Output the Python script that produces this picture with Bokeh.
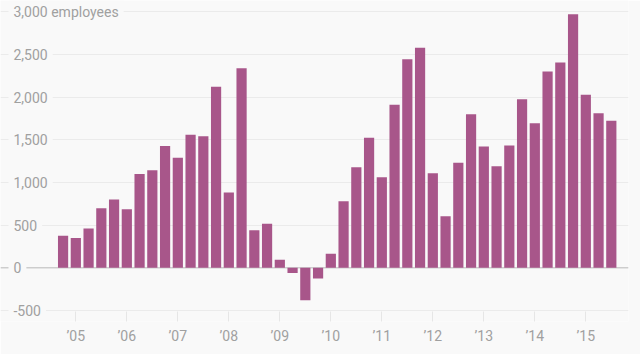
from bokeh.plotting import figure
from bokeh.models import Range1d, FixedTicker, Span, ColumnDataSource
from bokeh.core.properties import value
from bokeh.embed import file_html
from bokeh.resources import INLINE

# Quarterly change, first bar = 2004 Q4, last = 2015 Q3
first_quarter = (2004, 4)
employees = [375, 351, 460, 698, 800, 686, 1100, 1143, 1428, 1288, 1557, 1541,
             2119, 882, 2337, 440, 515, 94, -59, -379, -125, 164, 780, 1178,
             1522, 1061, 1909, 2443, 2576, 1108, 604, 1230, 1799, 1420, 1190, 1432,
             1975, 1694, 2299, 2404, 2970, 2026, 1810, 1721]

year_ticks = [2005, 2006, 2007, 2008, 2009, 2010, 2011, 2012, 2013, 2014, 2015]
year_labels = ["\u201905", "\u201906", "\u201907", "\u201908", "\u201909", "\u201910",
               "\u201911", "\u201912", "\u201913", "\u201914", "\u201915"]
y_ticks = [-500, 0, 500, 1000, 1500, 2000, 2500, 3000]
y_labels = ["-500", "0", "500", "1,000", "1,500", "2,000", "2,500", "3,000 employees"]

BG = "#f9f9f9"
TXT = "#a0a0a0"
BAR = "#a8568a"
FONT = "Roboto"

y0, q0 = first_quarter
xs = [y0 + (q0 - 1) / 4 + 0.25 * i for i in range(len(employees))]
src = ColumnDataSource(dict(x=xs, top=employees))

x_start = 2003.523
p = figure(width=640, height=354, output_backend="svg", toolbar_location=None,
           x_range=Range1d(x_start, 2015.837), y_range=Range1d(-628, 3130),
           min_border_left=0, min_border_top=0, min_border_right=12,
           min_border_bottom=33)
p.background_fill_color = BG
p.border_fill_color = BG
p.outline_line_color = None

p.vbar(x="x", top="top", bottom=0, width=0.2, source=src,
       fill_color=BAR, line_color=None)

p.xgrid.visible = False
p.yaxis.visible = False
p.yaxis.ticker = FixedTicker(ticks=y_ticks)
p.ygrid.ticker = FixedTicker(ticks=y_ticks)
p.ygrid.grid_line_color = "#ebebeb"
p.ygrid.grid_line_width = 1

p.add_layout(Span(location=0, dimension="width", line_color="#bdbdbd",
                  line_width=1, level="underlay"))

lab = ColumnDataSource(dict(x=[x_start] * len(y_ticks), y=y_ticks, t=y_labels))
p.text(x="x", y="y", text="t", source=lab, x_offset=8,
       text_align="left", text_baseline="middle",
       text_font=value(FONT), text_font_size="14px", text_color=TXT,
       background_fill_color=BG, padding=5)

xa = p.xaxis[0]
xa.ticker = FixedTicker(ticks=year_ticks)
xa.major_label_overrides = dict(zip(year_ticks, year_labels))
xa.axis_line_color = None
xa.major_tick_line_color = "#e6e6e6"
xa.major_tick_in = 10
xa.major_tick_out = 0
xa.minor_tick_line_color = None
xa.major_label_standoff = 6
xa.major_label_text_font = FONT
xa.major_label_text_font_size = "14px"
xa.major_label_text_color = TXT

open("out.html", "w").write(file_html(p, INLINE))
